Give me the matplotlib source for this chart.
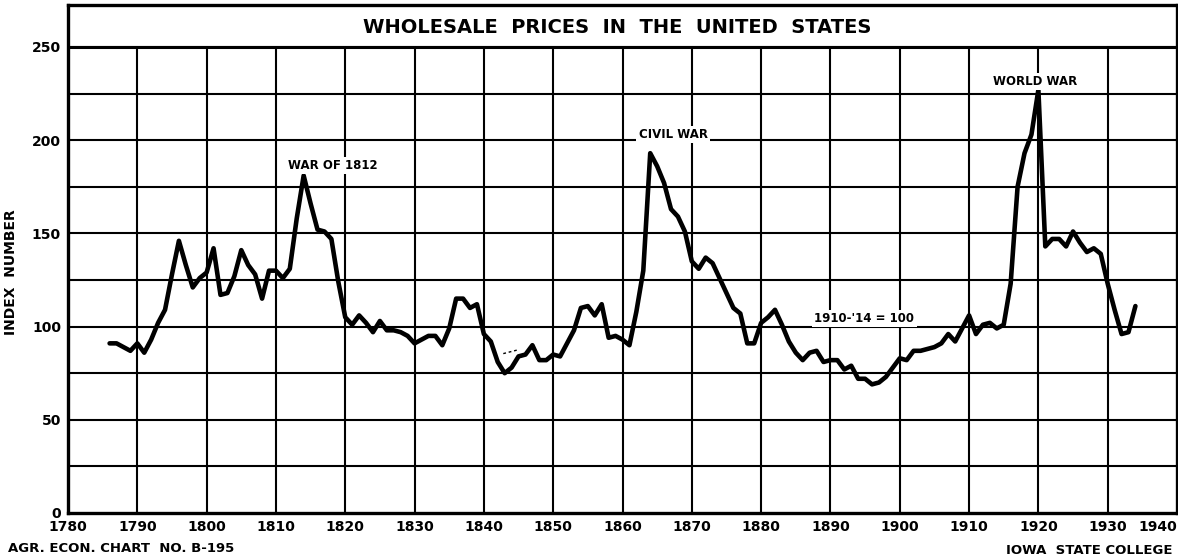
import matplotlib.pyplot as plt
import numpy as np

# index numbers, 1910-14 = 100
years = list(range(1786, 1935))
prices = [
    91, 91, 89, 87,                                   # 1786-1789
    91, 86, 93, 102, 109, 128, 146, 133, 121, 126,    # 1790s
    129, 142, 117, 118, 127, 141, 133, 128, 115, 130, # 1800s
    130, 126, 131, 158, 181, 166, 152, 151, 147, 124, # 1810s
    105, 101, 106, 102, 97, 103, 98, 98, 97, 95,      # 1820s
    91, 93, 95, 95, 90, 99, 115, 115, 110, 112,       # 1830s
    96, 92, 81, 75, 78, 84, 85, 90, 82, 82,           # 1840s
    85, 84, 91, 98, 110, 111, 106, 112, 94, 95,       # 1850s
    93, 90, 108, 130, 193, 186, 177, 163, 159, 151,   # 1860s
    135, 131, 137, 134, 126, 118, 110, 107, 91, 91,   # 1870s
    102, 105, 109, 101, 92, 86, 82, 86, 87, 81,       # 1880s
    82, 82, 77, 79, 72, 72, 69, 70, 73, 78,           # 1890s
    83, 82, 87, 87, 88, 89, 91, 96, 92, 99,           # 1900s
    106, 96, 101, 102, 99, 101, 123, 175, 193, 203,   # 1910s
    227, 143, 147, 147, 143, 151, 145, 140, 142, 139, # 1920s
    123, 109, 96, 97, 111,                            # 1930-1934
]

# short dotted connector drawn near 1843
dot_years = [1842.8, 1844.9]
dot_values = [85.5, 87.5]

x_ticks = list(range(1780, 1941, 10))
y_labels = [0, 50, 100, 150, 200, 250]
y_grid = list(range(25, 251, 25))

notes = [
    ("WAR OF 1812", 1818.2, 186.5),
    ("CIVIL WAR", 1867.3, 203),
    ("WORLD WAR", 1919.5, 231.5),
    ("1910-'14 = 100", 1894.9, 104.5),
]

plt.rcParams['font.family'] = ['DejaVu Sans']
plt.rcParams['font.weight'] = 'bold'

fig = plt.figure(figsize=(11.78, 5.59), dpi=100)
ax = fig.add_axes([68 / 1178, 46 / 559, 1109 / 1178, 508 / 559])

ax.set_xlim(1780, 1940)
ax.set_ylim(0, 272.5)

# grid drawn by hand so it stops under the title box
ax.vlines(x_ticks[1:-1], 0, 250, color='black', lw=1.5, zorder=1)
ax.hlines(y_grid, 1780, 1940, color='black', lw=1.5, zorder=1)
ax.axhline(250, color='black', lw=2.2, zorder=1)

ax.plot(years, prices, color='black', lw=3.3, solid_joinstyle='round',
        solid_capstyle='round', zorder=3)
ax.plot(dot_years, dot_values, color='black', lw=1.0, ls=(0, (2, 2)), zorder=3)

for label, xx, yy in notes:
    ax.text(xx, yy, label, ha='center', va='center', fontsize=8.5,
            fontweight='bold', zorder=4,
            bbox=dict(facecolor='white', edgecolor='none', pad=1.5))

ax.text(1859.2, 260.5, "WHOLESALE  PRICES  IN  THE  UNITED  STATES",
        ha='center', va='center', fontsize=14, fontweight='bold')

for s in ax.spines.values():
    s.set_linewidth(2.4)

ax.set_xticks(x_ticks)
ax.set_xticklabels([str(t) for t in x_ticks], fontsize=10, fontweight='bold')
ax.set_yticks(y_labels)
ax.set_yticklabels([str(t) for t in y_labels], fontsize=10, fontweight='bold')
ax.tick_params(length=0, pad=5)
ax.get_xticklabels()[-1].set_ha('right')
ax.set_ylabel("INDEX  NUMBER", fontsize=10, fontweight='bold')
ax.yaxis.set_label_coords(-0.045, 0.474)

fig.text(8 / 1178, 1 - 549 / 559, "AGR. ECON. CHART  NO. B-195", ha='left',
         va='center', fontsize=9.5, fontweight='bold')
fig.text(1173 / 1178, 1 - 550 / 559, "IOWA  STATE COLLEGE", ha='right',
         va='center', fontsize=9.5, fontweight='bold')

fig.savefig('out.png', dpi=100)
